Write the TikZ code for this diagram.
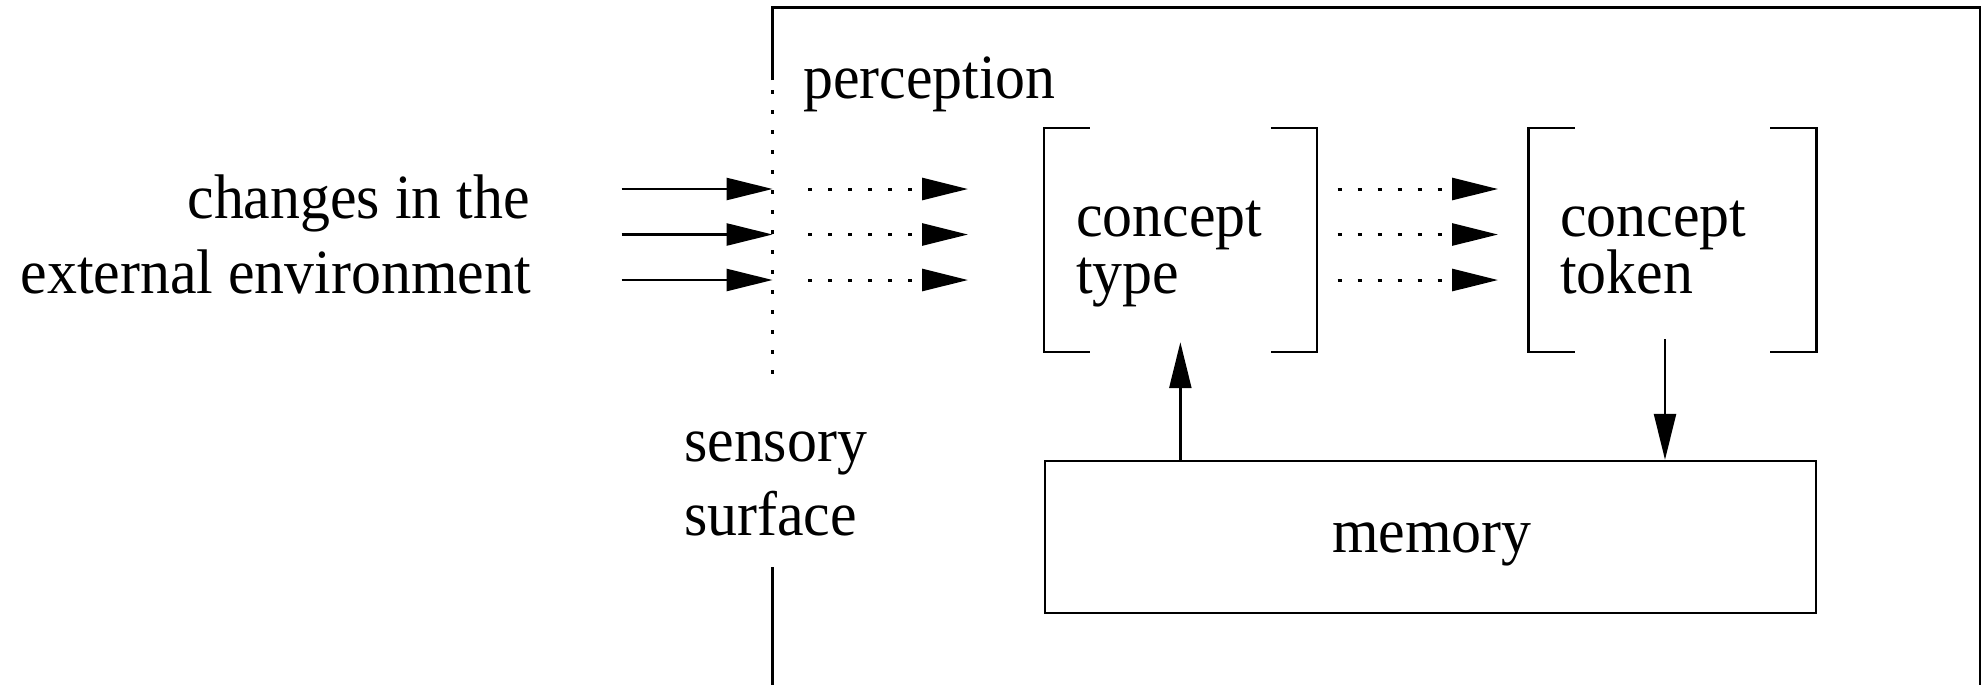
\documentclass[tikz,border=0pt]{standalone}
\usepackage{fontspec}
\setmainfont[FakeStretch=0.95]{Liberation Serif}
\usetikzlibrary{arrows.meta}
\begin{document}
\begin{tikzpicture}[x=1pt,y=-1pt,
  lbl/.style={inner sep=0pt, font=\fontsize{63pt}{63pt}\selectfont},
  ln/.style={line width=2.4pt, line join=miter},
  arr/.style={ln, -{Triangle[length=46pt,width=22pt]}},
  dotarr/.style={arr, line width=3pt, dash pattern=on 4pt off 16pt},
  dotln/.style={ln, dash pattern=on 4pt off 16pt},
  holder/.style={inner sep=0pt, minimum height=224pt}]
\path[use as bounding box] (0,0) rectangle (1986,685);

% outer frame
\coordinate (ftl) at (772.6,7.5);
\coordinate (ftr) at (1980,7.5);
\coordinate (fbr) at (1980,685);
\coordinate (fsolid) at (772.6,80);
\coordinate (fdot1) at (772.6,90);
\coordinate (fdot2) at (772.6,375);
\coordinate (flow) at (772.6,567);
\coordinate (fbl) at (772.6,685);
\draw[ln] (fsolid) -- (ftl) -- (ftr) -- (fbr);
\draw[dotln] (fdot1) -- (fdot2);
\draw[ln] (flow) -- (fbl);

% labels
\node[lbl, anchor=base west] (perc) at (803,98) {perception};
\node[lbl, anchor=base east] (chg) at (530,218) {changes in the};
\node[lbl, anchor=base east] (ext) at (531,293) {external environment};
\node[lbl, anchor=base west] (sen) at (684,461) {sensory};
\node[lbl, anchor=base west] (sur) at (684,535) {surface};

% concept type bracket
\node[holder, minimum width=272.7pt] (ctype) at (1180.35,240) {};
\draw[ln] ([xshift=46pt]ctype.north west) -- (ctype.north west) -- (ctype.south west) -- ([xshift=46pt]ctype.south west);
\draw[ln] ([xshift=-46pt]ctype.north east) -- (ctype.north east) -- (ctype.south east) -- ([xshift=-46pt]ctype.south east);
\node[lbl, anchor=base west] (ct1) at (1076,236) {concept};
\node[lbl, anchor=base west] (ct2) at (1076,293) {type};

% concept token bracket
\node[holder, minimum width=287.3pt] (ctoken) at (1672.5,240) {};
\draw[ln] ([xshift=46pt]ctoken.north west) -- (ctoken.north west) -- (ctoken.south west) -- ([xshift=46pt]ctoken.south west);
\draw[ln] ([xshift=-46pt]ctoken.north east) -- (ctoken.north east) -- (ctoken.south east) -- ([xshift=-46pt]ctoken.south east);
\node[lbl, anchor=base west] (tk1) at (1560,236) {concept};
\node[lbl, anchor=base west] (tk2) at (1560,293) {token};

% memory
\node[draw, ln, inner sep=0pt, minimum width=771pt, minimum height=152pt] (mem) at (1430.5,537) {};
\node[lbl, anchor=base] (memtxt) at (1432,552) {memory};

% horizontal arrows
\foreach \i/\yy in {1/189,2/234.5,3/280} {
  \coordinate (in\i) at (621.5,\yy);
  \coordinate (ss\i) at (772.6,\yy);
  \coordinate (pa\i) at (808,\yy);
  \coordinate (pb\i) at (968,\yy);
  \coordinate (qa\i) at (1337.5,\yy);
  \coordinate (qb\i) at (1498,\yy);
  \draw[arr] (in\i) -- (ss\i);
  \draw[dotarr] (pa\i) -- (pb\i);
  \draw[dotarr] (qa\i) -- (qb\i);
}

% vertical arrows
\draw[arr] (mem.north -| ctype.south) -- ([yshift=10pt]ctype.south);
\coordinate (tokout) at (1665,339);
\draw[arr] (tokout) -- (tokout |- mem.north);
\end{tikzpicture}
\end{document}
